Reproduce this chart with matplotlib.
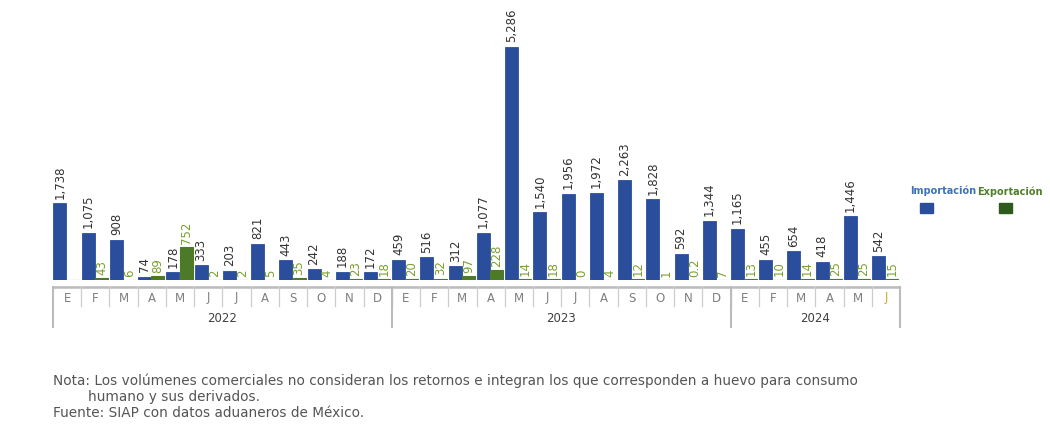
import numpy as np
import matplotlib
matplotlib.use("Agg")
import matplotlib.pyplot as plt
from matplotlib.transforms import blended_transform_factory

months = ["E", "F", "M", "A", "M", "J", "J", "A", "S", "O", "N", "D",
          "E", "F", "M", "A", "M", "J", "J", "A", "S", "O", "N", "D",
          "E", "F", "M", "A", "M", "J"]
years = ["2022", "2023", "2024"]
year_counts = [12, 12, 6]

importacion = [1738, 1075, 908, 74, 178, 333, 203, 821, 443, 242, 188, 172,
               459, 516, 312, 1077, 5286, 1540, 1956, 1972, 2263, 1828, 592, 1344,
               1165, 455, 654, 418, 1446, 542]
exportacion = [np.nan, 43, 6, 89, 752, 2, 2, 5, 35, 4, 23, 18,
               20, 32, 97, 228, 14, 18, 0, 4, 12, 1, 0.2, 7,
               13, 10, 14, 25, 25, 15]

W, H = 1050, 435
fig = plt.figure(figsize=(W / 100, H / 100), dpi=100)

def fx(px):
    return px / W

def fy(py):
    return (H - py) / H

ax_left, ax_right, ax_base, ax_top = 53, 900, 281, 0
ax = fig.add_axes([fx(ax_left), fy(ax_base), fx(ax_right - ax_left), (ax_base - ax_top) / H])
ax.set_axis_off()

n = len(months)
x = np.arange(n)
blue = "#2B4E9C"
green = "#4D7A26"
green_txt = "#7AA02C"
ax.set_xlim(-0.5, n - 0.5)
ax.set_ylim(0, 6372)

imp = np.array(importacion, dtype=float)
exp_ = np.array(exportacion, dtype=float)
ax.bar(x - 0.255, imp, width=0.46, color=blue, edgecolor=blue, linewidth=0.6)
ax.bar(x + 0.215, np.nan_to_num(exp_), width=0.46, color=green, edgecolor=green,
       linewidth=0.8)

def fmt(v):
    if float(v).is_integer():
        return f"{v:,.0f}"
    return f"{v:g}"

for i in range(n):
    ax.annotate(fmt(imp[i]), (x[i] - 0.255, imp[i]), xytext=(0, 4),
                textcoords="offset points", rotation=90, ha="center", va="bottom",
                fontsize=8.5, color="#333333")
    if not np.isnan(exp_[i]):
        ax.annotate(fmt(exp_[i]), (x[i] + 0.215, exp_[i]), xytext=(0, 3),
                    textcoords="offset points", rotation=90, ha="center", va="bottom",
                    fontsize=8.5, color=green_txt)

# category box
tr = blended_transform_factory(ax.transData, fig.transFigure)
line_col = "#BBBBBB"
ax.plot([-0.5, n - 0.5], [fy(288), fy(288)], transform=tr, color=line_col, lw=1.8,
        clip_on=False, solid_capstyle="butt")
for i in range(n - 1):
    ax.plot([i + 0.5, i + 0.5], [fy(288), fy(307)], transform=tr, color="#CCCCCC",
            lw=0.9, clip_on=False)
bounds = np.concatenate([[0], np.cumsum(year_counts)]) - 0.5
for b in bounds:
    ax.plot([b, b], [fy(288), fy(328)], transform=tr, color=line_col, lw=1.5,
            clip_on=False)
for i, m in enumerate(months):
    col = "#D4A82A" if i == n - 1 else "#7F7F7F"
    ax.text(i, fy(298), m, transform=tr, ha="center", va="center", fontsize=8.5,
            color=col)
for k, yr in enumerate(years):
    c = (bounds[k] + bounds[k + 1]) / 2
    ax.text(c, fy(318), yr, transform=tr, ha="center", va="center", fontsize=8.5,
            color="#404040")

# legend
fig.text(fx(943), fy(191), "Importación", ha="center", va="center", fontsize=7,
         color="#3F72B5", fontweight="bold")
fig.text(fx(1010), fy(192), "Exportación", ha="center", va="center", fontsize=7,
         color="#4F7F2A", fontweight="bold")
fig.patches.append(plt.Rectangle((fx(920), fy(214)), fx(13), 10 / H, color=blue,
                                 transform=fig.transFigure, figure=fig))
fig.patches.append(plt.Rectangle((fx(999), fy(214)), fx(13), 10 / H, color="#2F5A1E",
                                 transform=fig.transFigure, figure=fig))

# footnotes
note_kw = dict(fontsize=9.8, color="#555555", va="center", ha="left")
fig.text(fx(53), fy(381), "Nota: Los volúmenes comerciales no consideran los retornos e integran los que corresponden a huevo para consumo", **note_kw)
fig.text(fx(88), fy(397), "humano y sus derivados.", **note_kw)
fig.text(fx(53), fy(413), "Fuente: SIAP con datos aduaneros de México.", **note_kw)

fig.savefig("out.png", dpi=100)
